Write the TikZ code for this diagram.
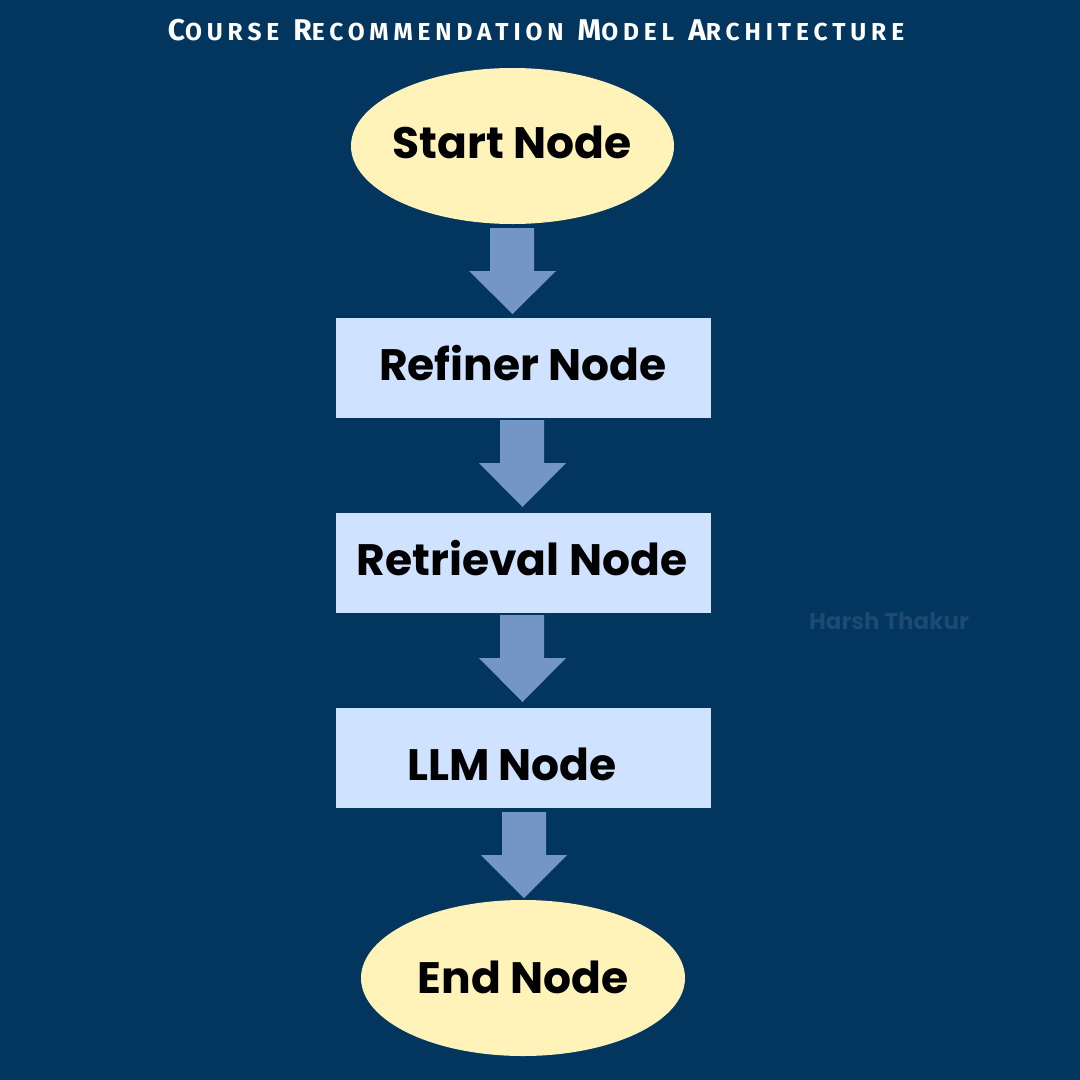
\documentclass[tikz,border=0pt]{standalone}
\usepackage{fontspec}
\setmainfont{Poppins}
\newfontfamily\titlefont{Fira Sans}[LetterSpace=20]
\usetikzlibrary{shapes.geometric}
\definecolor{bg}{HTML}{02365E}
\definecolor{ellfill}{HTML}{FFF3BA}
\definecolor{boxfill}{HTML}{CFE2FF}
\definecolor{arrowc}{HTML}{7396C4}
\definecolor{wm}{HTML}{1B4A72}
\newcommand{\bigc}[1]{{\fontsize{30}{30}\selectfont #1}}
\newcommand{\smc}[1]{{\fontsize{24.5}{26}\selectfont #1}}
\begin{document}
\begin{tikzpicture}[x=1pt,y=-1pt,
  ell/.style={ellipse, fill=ellfill, inner sep=0pt},
  boxn/.style={rectangle, fill=boxfill, minimum width=375pt, minimum height=100pt, inner sep=0pt},
  lbl/.style={font=\fontsize{44}{48}\selectfont\bfseries, text=black},
  flow/.style={fill=arrowc}
]
\fill[bg] (0,0) rectangle (1080,1080);
\useasboundingbox (0,0) rectangle (1080,1080);

\node[text=white, font=\titlefont\bfseries, anchor=base] (title) at (536,40)
  {\bigc{C}\smc{OURSE}\hspace{14pt}\bigc{R}\smc{ECOMMENDATION}\hspace{14pt}\bigc{M}\smc{ODEL}\hspace{14pt}\bigc{A}\smc{RCHITECTURE}};

\node[ell, minimum width=323pt, minimum height=156pt] (start) at (512.5,146) {};
\node[lbl] at (512,142) {Start Node};

\node[boxn] (refiner) at (523.5,368) {};
\node[lbl] at (523,363) {Refiner Node};

\node[boxn] (retrieval) at (523.5,563) {};
\node[lbl] at (522,558) {Retrieval Node};

\node[boxn] (llm) at (523.5,758) {};
\node[lbl] at (512,764) {LLM Node};

\node[ell, minimum width=324pt, minimum height=156pt] (end) at (523,978) {};
\node[lbl] at (523,977) {End Node};

\node[text=wm, font=\fontsize{23}{26}\selectfont\bfseries] (wmark) at (889,621) {Harsh Thakur};

% arrows
\fill[flow] (490,228) -- (534,228) -- (534,271) -- (556,271) -- (512.5,314) -- (469,271) -- (490,271) -- cycle;
\fill[flow] (500,420) -- (544,420) -- (544,463) -- (566,463) -- (522.5,507) -- (479,463) -- (500,463) -- cycle;
\fill[flow] (500,615) -- (544,615) -- (544,658) -- (566,658) -- (522.5,702) -- (479,658) -- (500,658) -- cycle;
\fill[flow] (502,812) -- (546,812) -- (546,855) -- (567,855) -- (524,898) -- (481,855) -- (502,855) -- cycle;
\end{tikzpicture}
\end{document}
